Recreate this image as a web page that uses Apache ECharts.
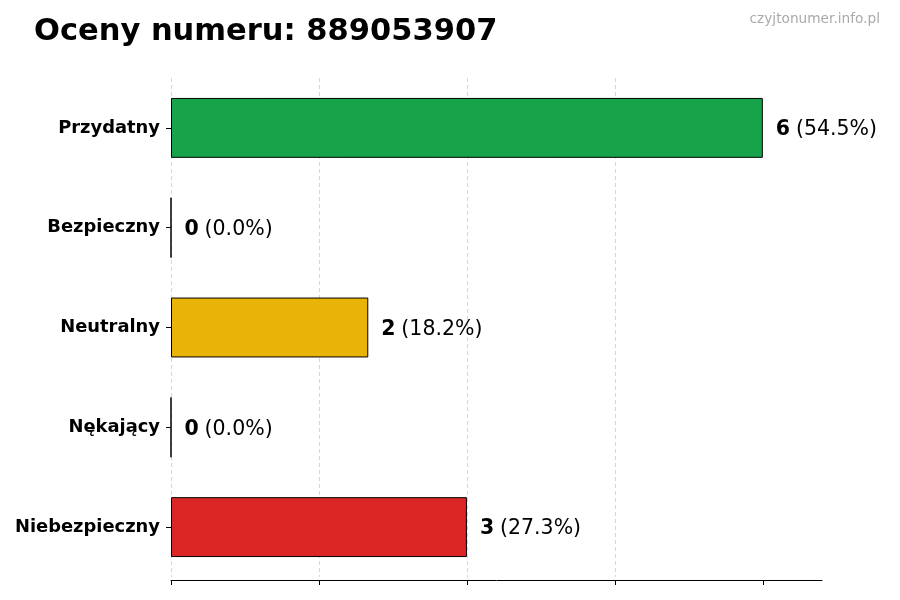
<!DOCTYPE html>
<html>
<head>
<meta charset="utf-8">
<title>Oceny numeru</title>
<script src="https://cdn.jsdelivr.net/npm/echarts@6/dist/echarts.min.js"></script>
<style>
	html, body { margin: 0; padding: 0; background: #fff; }
	#main { width: 900px; height: 600px; }
</style>
</head>
<body>
<div id="main"></div>
<script>
// dane wykresu
var categories = ['Przydatny', 'Bezpieczny', 'Neutralny', 'Nękający', 'Niebezpieczny'];
var counts = [6, 0, 2, 0, 3];
var barColors = ['#17a34a', '#3b82f6', '#eab308', '#f97316', '#dc2626'];
var gridTicks = [0, 1.5, 3, 4.5, 6];

var total = counts.reduce(function(a, b) { return a + b; }, 0);
var font = 'DejaVu Sans';

var chart = echarts.init(document.getElementById('main'), null, { renderer: 'canvas' });
chart.setOption({
	animation: false,
	backgroundColor: '#ffffff',
	textStyle: { fontFamily: font },
	title: [
		{
			text: 'Oceny numeru: 889053907',
			left: 29,
			top: 12,
			textStyle: { fontFamily: font, fontSize: 30.5, fontWeight: 'bold', color: '#000' }
		},
		{
			text: 'czyjtonumer.info.pl',
			right: 15,
			top: 7,
			textStyle: { fontFamily: font, fontSize: 13.7, fontWeight: 'normal', color: '#aaaaaa' }
		}
	],
	grid: {
		left: 171,
		right: 78,
		top: 78,
		bottom: 23
	},
	xAxis: {
		type: 'value',
		min: 0,
		max: 6.6,
		interval: gridTicks[1] - gridTicks[0],
		offset: 3,
		axisLine: { show: true, lineStyle: { color: '#000', width: 1 } },
		axisTick: { show: true, length: 5, customValues: gridTicks, lineStyle: { color: '#000' } },
		axisLabel: { show: false },
		splitLine: {
			show: true,
			showMaxLine: false,
			lineStyle: { color: '#cccccc', type: [4, 3], width: 0.8 }
		}
	},
	yAxis: {
		type: 'category',
		data: categories,
		inverse: true,
		axisLine: { show: false },
		axisTick: { show: true, alignWithLabel: true, length: 5, lineStyle: { color: '#000' } },
		axisLabel: {
			margin: 11,
			padding: [8, 0, 0, 0],
			fontFamily: font,
			fontSize: 17.9,
			fontWeight: 'bold',
			color: '#000'
		}
	},
	series: [
		{
			type: 'bar',
			barWidth: '60%',
			data: counts.map(function(v, i) {
				return {
					value: v,
					itemStyle: { color: barColors[i], borderColor: '#000', borderWidth: 1 }
				};
			}),
			label: {
				show: true,
				position: 'right',
				distance: 13,
				formatter: function(p) {
					var pct = total ? (p.value / total * 100).toFixed(1) : '0.0';
					return '{b|' + p.value + '} {n|(' + pct + '%)}';
				},
				rich: {
					b: { fontFamily: font, fontSize: 20.5, fontWeight: 'bold', color: '#000', padding: [4, 0, 0, 0] },
					n: { fontFamily: font, fontSize: 20.5, fontWeight: 'normal', color: '#000', padding: [4, 0, 0, 2] }
				}
			}
		}
	]
});
</script>
</body>
</html>
